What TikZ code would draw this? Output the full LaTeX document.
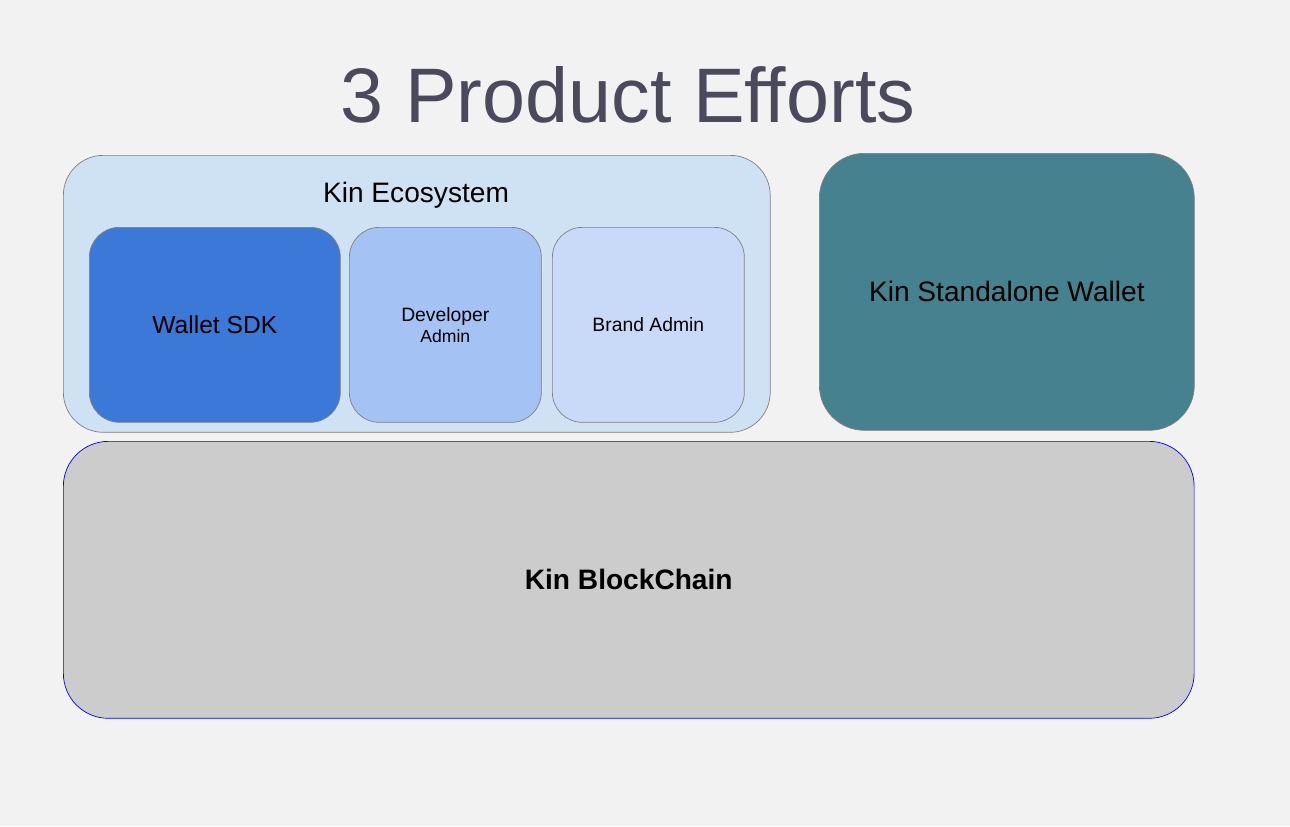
\documentclass[tikz,border=0pt]{standalone}
\usepackage{fontspec}
\setmainfont{Liberation Sans}
\usepackage{tikz}
\usetikzlibrary{backgrounds}
\definecolor{bgcol}{HTML}{F2F2F2}
\definecolor{ecocol}{HTML}{CFE2F3}
\definecolor{sdkcol}{HTML}{3C78D8}
\definecolor{devcol}{HTML}{A4C2F4}
\definecolor{brandcol}{HTML}{C9DAF8}
\definecolor{walcol}{HTML}{45818E}
\definecolor{chaincol}{HTML}{CCCCCC}
\definecolor{titlecol}{HTML}{4A4A5C}
\tikzstyle{box} = [rectangle, anchor=north west, draw=gray, thin,
                   text centered, align=center, inner sep=0pt]
\tikzstyle{eco}   = [box, rounded corners=0.8cm, fill=ecocol,
                     minimum width=14.14cm, minimum height=5.54cm]
\tikzstyle{inner} = [box, rounded corners=0.6cm, minimum height=3.9cm]
\tikzstyle{big}   = [box, rounded corners=0.9cm, minimum height=5.54cm]
\begin{document}
\begin{tikzpicture}[x=0.02cm, y=-0.02cm]
\fill[bgcol] (0,0) rectangle (1290,826);
\node (ttl) at (628,95) {\fontsize{44}{50}\selectfont\color{titlecol}3 Product Efforts};
\node (eco) [eco] at (63,155) {};
\node (ecl) at (416,195) {\fontsize{16}{19}\selectfont Kin Ecosystem};
\node (sdk) [inner, fill=sdkcol, minimum width=5.02cm] at (89,227)
      {\fontsize{14}{17}\selectfont Wallet SDK};
\node (dev) [inner, fill=devcol, minimum width=3.84cm] at (349,227)
      {\fontsize{11}{14}\selectfont Developer\\ Admin};
\node (brd) [inner, fill=brandcol, minimum width=3.84cm] at (552,227)
      {\fontsize{11}{14}\selectfont Brand Admin};
\node (wal) [big, fill=walcol, minimum width=7.5cm] at (819,153)
      {\fontsize{16}{19}\selectfont Kin Standalone Wallet};
\node (chn) [big, fill=chaincol, draw=blue, minimum width=22.62cm] at (63,441)
      {\fontsize{16}{19}\selectfont\bfseries Kin BlockChain};
\end{tikzpicture}
\end{document}
